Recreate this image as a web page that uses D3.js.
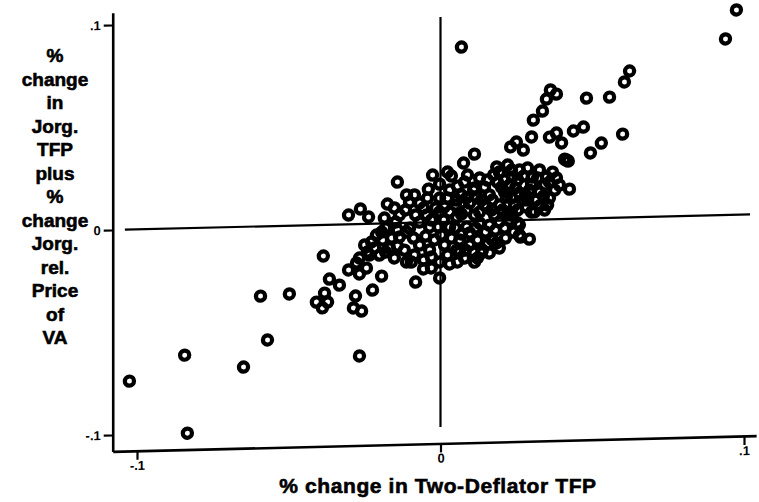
<!DOCTYPE html>
<html>
<head>
<meta charset="utf-8">
<script src="https://cdn.jsdelivr.net/npm/d3@7"></script>
<style>
  body { margin: 0; background: #fff; }
  text { font-family: "Liberation Sans", Arial, sans-serif; font-weight: bold; fill: #000; }
</style>
</head>
<body>
<svg id="chart" width="759" height="502"></svg>
<script>
// Tick positions and their printed labels
const xTicks = [-0.1, 0, 0.1];
const xTickLabels = ["-.1", "0", ".1"];
const yTicks = [-0.1, 0, 0.1];
const yTickLabels = ["-.1", "0", ".1"];

// Axis titles
const xTitle = "% change in Two-Deflator TFP";
const yTitleLines = ["%", "change", "in", "Jorg.", "TFP", "plus", "%", "change", "Jorg.", "rel.", "Price", "of", "VA"];

// % change in two-deflator TFP (one entry per industry-year)
const twoDeflatorTFP = [
  -0.1025, -0.0843, -0.0834, -0.0649, -0.0570, -0.0593, -0.0498, -0.0267, -0.0386, -0.0366,
  -0.0333, -0.0382, -0.0409, -0.0372, -0.0389, -0.0303, -0.0277, -0.0267, -0.0244, -0.0280,
  -0.0287, -0.0260, -0.0224, -0.0194, -0.0082, -0.0056, -0.0003, -0.0112, 0.0030, -0.0030,
  -0.0303, -0.0264, -0.0237, -0.0142, -0.0175, -0.0152, 0.0069, 0.0076, 0.0112, 0.0975,
  0.0939, 0.0623, 0.0606, 0.0481, 0.0557, 0.0362, 0.0382, 0.0349, 0.0336, 0.0306,
  0.0300, 0.0250, 0.0231, 0.0273, 0.0382, 0.0359, 0.0399, 0.0438, 0.0471, 0.0600,
  0.0530, 0.0494, 0.0415, 0.0409, 0.0421, 0.0425, 0.0264, 0.0293, 0.0254, 0.0135,
  0.0063,
  0.0185, 0.0221, 0.0237, 0.0303, 0.0326, 0.0349, 0.0382, 0.0129, 0.0036, -0.0026,
  0.0023, 0.0260, 0.0287,
  -0.0003, -0.0040, 0.0030, 0.0145, 0.0201, 0.0254, 0.0293, 0.0343, 0.0376, 0.0079,
  0.0112, 0.0227, 0.0326, 0.0392,
  -0.0112, -0.0086, 0.0053, 0.0119, 0.0171, 0.0217, 0.0260, 0.0316, 0.0013, -0.0102,
  -0.0069, 0.0086, 0.0359, 0.0145, 0.0194, 0.0287,
  0.0086, -0.0046, 0.0152, 0.0283, 0.0237, 0.0221, 0.0053, -0.0003, -0.0135, -0.0185,
  0.0112, 0.0178, 0.0310, 0.0343,
  0.0129, 0.0086, 0.0030, -0.0036, -0.0007, -0.0102, -0.0181, -0.0135, -0.0211, -0.0191,
  0.0260, 0.0260, 0.0096, 0.0161, 0.0211, -0.0069, -0.0142, -0.0112,
  0.0063, 0.0171, 0.0185, 0.0053, 0.0138, -0.0250, -0.0217, -0.0168, -0.0069, -0.0020,
  0.0013, 0.0096, -0.0201, -0.0119,
  -0.0267, -0.0234, -0.0152, -0.0086, -0.0003, 0.0079, 0.0112, 0.0161,
  0.0194, 0.0211, 0.0234, 0.0247, 0.0273, 0.0280, 0.0300, 0.0320, 0.0339, 0.0359,
  0.0369, 0.0353, 0.0326, 0.0300, 0.0273, 0.0244, 0.0211, 0.0188, 0.0161, 0.0175,
  0.0155, 0.0234, 0.0254, 0.0204, 0.0168, 0.0135, 0.0129, 0.0096, 0.0109, 0.0069,
  0.0056, 0.0089, 0.0049, 0.0069, 0.0030, 0.0023, -0.0003, -0.0016, -0.0043, -0.0056,
  -0.0030, 0.0010, 0.0049, 0.0069, 0.0115, 0.0148, 0.0181, 0.0194, 0.0227, 0.0241,
  0.0214, 0.0155, 0.0122, 0.0109, 0.0082, 0.0036, 0.0003, 0.0023, -0.0036, -0.0049,
  -0.0089, -0.0082, -0.0115, -0.0148, -0.0161, -0.0194, -0.0227, -0.0241, -0.0181, -0.0142,
  -0.0096, -0.0056, -0.0030, 0.0056, 0.0122, 0.0194
];

// % change in Jorgenson TFP plus % change in Jorgenson relative price of value added
const jorgTFPPlusPrice = [
  -0.0739, -0.0619, -0.1000, -0.0684, -0.0555, -0.0340, -0.0333, -0.0644, -0.0152, -0.0265,
  -0.0296, -0.0333, -0.0376, -0.0377, -0.0405, -0.0223, -0.0190, -0.0244, -0.0216, -0.0351,
  -0.0409, -0.0425, -0.0324, -0.0257, -0.0290, -0.0227, -0.0273, -0.0191, -0.0206, -0.0170,
  0.0045, 0.0073, 0.0033, 0.0200, 0.0094, 0.0074, 0.0851, 0.0285, 0.0327, 0.0999,
  0.0859, 0.0714, 0.0661, 0.0587, 0.0589, 0.0631, 0.0610, 0.0587, 0.0529, 0.0486,
  0.0404, 0.0381, 0.0358, 0.0341, 0.0420, 0.0401, 0.0371, 0.0428, 0.0446, 0.0407,
  0.0366, 0.0319, 0.0287, 0.0292, 0.0282, 0.0145, -0.0083, -0.0094, -0.0014, -0.0156,
  -0.0149,
  0.0262, 0.0270, 0.0211, 0.0208, 0.0242, 0.0207, 0.0201, 0.0210, 0.0223, 0.0230,
  0.0243, 0.0244, 0.0253,
  0.0185, 0.0162, 0.0155, 0.0165, 0.0163, 0.0196, 0.0145, 0.0168, 0.0142, 0.0192,
  0.0162, 0.0172, 0.0135, 0.0166,
  0.0136, 0.0135, 0.0105, 0.0118, 0.0101, 0.0114, 0.0132, 0.0096, 0.0073, 0.0101,
  0.0095, 0.0114, 0.0104, 0.0078, 0.0076, 0.0097,
  0.0055, 0.0036, 0.0068, 0.0063, 0.0025, 0.0036, 0.0022, 0.0049, 0.0039, 0.0026,
  0.0030, 0.0028, 0.0038, 0.0046,
  -0.0010, -0.0028, -0.0026, -0.0023, -0.0024, -0.0026, -0.0023, -0.0068, -0.0056, -0.0081,
  -0.0024, -0.0073, -0.0057, -0.0021, -0.0037, 0.0002, -0.0034, -0.0045,
  -0.0090, -0.0094, -0.0109, -0.0139, -0.0142, -0.0103, -0.0119, -0.0121, -0.0110, -0.0087,
  -0.0113, -0.0116, -0.0154, -0.0133,
  -0.0166, -0.0153, -0.0170, -0.0158, -0.0195, -0.0179, -0.0200, -0.0157,
  0.0237, 0.0197, 0.0245, 0.0157, 0.0214, 0.0121, 0.0174, 0.0203, 0.0114, 0.0182,
  0.0230, 0.0070, 0.0066, 0.0038, 0.0097, 0.0074, 0.0139, 0.0188, 0.0126, 0.0223,
  0.0199, 0.0108, 0.0049, 0.0051, 0.0052, 0.0102, 0.0044, 0.0089, 0.0152, 0.0129,
  0.0173, 0.0226, 0.0081, 0.0036, 0.0048, 0.0116, 0.0117, 0.0069, 0.0118, 0.0070,
  0.0011, 0.0009, -0.0031, -0.0061, -0.0034, -0.0054, -0.0046, -0.0007, 0.0001, -0.0058,
  -0.0086, -0.0113, -0.0092, -0.0150, -0.0140, -0.0080, -0.0064, -0.0162, -0.0135, -0.0067,
  -0.0075, 0.0037, 0.0063, 0.0005, -0.0072, -0.0042, -0.0089, -0.0138, -0.0140, -0.0112,
  -0.0192, -0.0183, -0.0223, -0.0197, -0.0180, -0.0134
];

const svg = d3.select("#chart");

const x = d3.scaleLinear().domain([-0.1, 0.1]).range([137, 744]);
const y = d3.scaleLinear().domain([-0.1, 0.1]).range([435, 25]);

// frame extents of the two axis lines
const xFrame = [-0.108, 0.104];
const yFrame = [-0.108, 0.106];
const xAxisScale = x.copy().domain(xFrame).range(xFrame.map(x));
const yAxisScale = y.copy().domain(yFrame).range(yFrame.map(y));

// the printed page is slightly sheared: right side sits higher
const originX = x(xFrame[0]);
const plot = svg.append("g")
  .attr("transform", `translate(${originX},0) skewY(-1.4) translate(${-originX},0)`);

// left axis
const yAxis = plot.append("g")
  .attr("transform", `translate(${originX},0)`)
  .call(d3.axisLeft(yAxisScale)
    .tickValues(yTicks)
    .tickFormat((d, i) => yTickLabels[i])
    .tickSize(9).tickSizeOuter(0).tickPadding(3));

// bottom axis
const xAxis = plot.append("g")
  .attr("transform", `translate(0,${y(yFrame[0])})`)
  .call(d3.axisBottom(xAxisScale)
    .tickValues(xTicks)
    .tickFormat((d, i) => xTickLabels[i])
    .tickSize(9).tickSizeOuter(0).tickPadding(1));

[yAxis, xAxis].forEach(g => {
  g.select(".domain").attr("stroke", "#000").attr("stroke-width", 2.6);
  g.selectAll(".tick line").attr("stroke", "#000").attr("stroke-width", 2.2);
  g.selectAll(".tick text")
    .style("font-family", '"Liberation Sans", Arial, sans-serif')
    .style("font-weight", "bold")
    .style("font-size", "13px")
    .attr("fill", "#000");
});

// reference lines through zero
plot.append("line")
  .attr("x1", x(-0.104)).attr("x2", x(0.102))
  .attr("y1", y(0)).attr("y2", y(0))
  .attr("stroke", "#000").attr("stroke-width", 2.2);
plot.append("line")
  .attr("x1", x(0)).attr("x2", x(0))
  .attr("y1", y(0.1)).attr("y2", y(-0.1))
  .attr("stroke", "#000").attr("stroke-width", 2.2);

// scatter of hollow markers
const points = twoDeflatorTFP.map((v, i) => ({ x: v, y: jorgTFPPlusPrice[i] }));
plot.append("g")
  .selectAll("circle")
  .data(points)
  .join("circle")
  .attr("cx", d => x(d.x))
  .attr("cy", d => y(d.y))
  .attr("r", 4.6)
  .attr("fill", "none")
  .attr("stroke", "#000")
  .attr("stroke-width", 4.2);

// y-axis title, stacked one word per line
svg.append("text")
  .attr("text-anchor", "middle")
  .style("font-size", "19px")
  .attr("stroke", "#000").attr("stroke-width", 0.6)
  .selectAll("tspan")
  .data(yTitleLines)
  .join("tspan")
  .attr("x", 55)
  .attr("y", (d, i) => 62 + i * 23.5)
  .text(d => d);

// x-axis title
svg.append("text")
  .attr("x", 438)
  .attr("y", 493)
  .attr("text-anchor", "middle")
  .style("font-size", "21px")
  .style("letter-spacing", "0.6px")
  .attr("stroke", "#000").attr("stroke-width", 0.6)
  .text(xTitle);
</script>
</body>
</html>
